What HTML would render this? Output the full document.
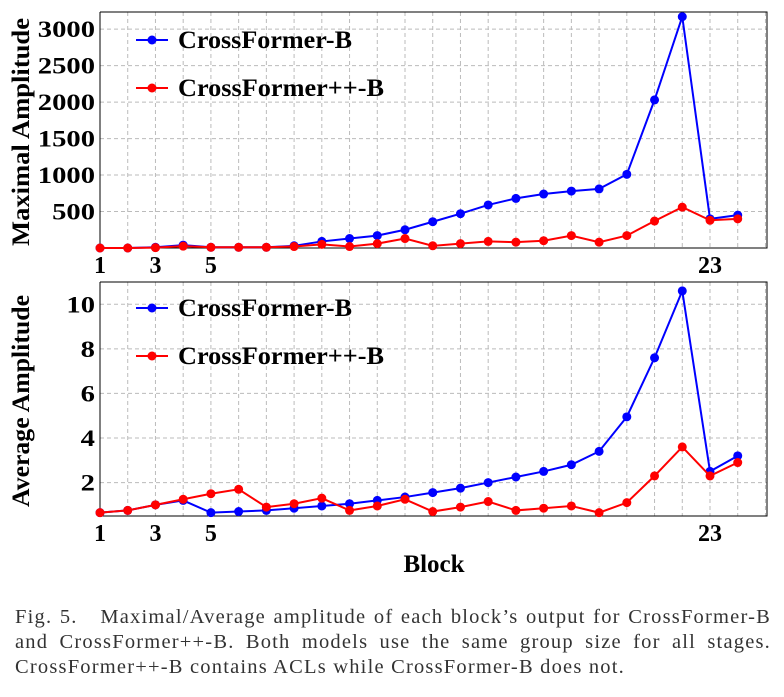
<!DOCTYPE html>
<html><head><meta charset="utf-8"><style>
body{margin:0;background:#fff;width:784px;height:697px;overflow:hidden;font-family:"Liberation Serif",serif}
svg text{font-family:"Liberation Serif",serif}
#cap{position:absolute;left:15px;top:605px;width:756px;font-size:20.5px;letter-spacing:1.2px;line-height:25px;color:#333}
#cap .j{text-align:justify;text-align-last:justify;white-space:nowrap}
</style></head><body>
<svg id="chart" width="784" height="600" style="position:absolute;left:0;top:0"></svg>
<div id="cap"><div class="j">Fig. 5.&nbsp;&nbsp; Maximal/Average amplitude of each block’s output for CrossFormer-B</div><div class="j">and CrossFormer++-B. Both models use the same group size for all stages.</div><div>CrossFormer++-B contains ACLs while CrossFormer-B does not.</div></div>
<script>
const blocks=[1,2,3,4,5,6,7,8,9,10,11,12,13,14,15,16,17,18,19,20,21,22,23,24];
const xTickLabels=[1,3,5,23];
const maxBlue=[0,0,10,40,10,10,10,30,90,130,170,250,360,470,590,680,740,780,810,1010,2030,3170,400,450];
const maxRed=[0,0,5,25,10,10,10,20,50,20,60,130,30,60,90,80,100,170,80,170,370,560,380,400];
const maxTicks=[500,1000,1500,2000,2500,3000];
const avgBlue=[0.65,0.75,1.0,1.2,0.65,0.7,0.75,0.85,0.95,1.05,1.2,1.35,1.55,1.75,2.0,2.25,2.5,2.8,3.4,4.95,7.6,10.6,2.5,3.2];
const avgRed=[0.65,0.75,1.0,1.25,1.5,1.7,0.9,1.05,1.3,0.75,0.95,1.25,0.7,0.9,1.15,0.75,0.85,0.95,0.65,1.1,2.3,3.6,2.3,2.9];
const avgTicks=[2,4,6,8,10];
const seriesNames=["CrossFormer-B","CrossFormer++-B"];
const NS="http://www.w3.org/2000/svg";
const svg=document.getElementById('chart');
function mk(t,a,p){const e=document.createElementNS(NS,t);for(const k in a)e.setAttribute(k,a[k]);(p||svg).appendChild(e);return e;}
const L=100,R=767;
const xs=b=>L+(b-1)*(710-L)/22;
function panel(name,top,bottom,yMin,yMax,ticks,blue,red,ylabel,legY){
  const g=mk('g',{});
  
  
  const ys=v=>bottom-(v-yMin)/(yMax-yMin)*(bottom-top);
  for(let b=1;b<=25;b++){if(xs(b)>R)break;const l=mk('line',{x1:xs(b),x2:xs(b),y1:top,y2:bottom,stroke:'#bbb','stroke-dasharray':'4,3','stroke-width':1},g);}
  ticks.forEach(t=>{const l=mk('line',{x1:L,x2:R,y1:ys(t),y2:ys(t),stroke:'#bbb','stroke-dasharray':'4,3','stroke-width':1},g);
    const tx=mk('text',{x:L-5,y:ys(t)+8,'text-anchor':'end','font-size':23,'font-weight':'bold',textLength:String(t).length*14.3,lengthAdjust:'spacingAndGlyphs'},g);tx.textContent=t;});
  const ax=mk('polyline',{points:`${L},${top} ${L},${bottom} ${R},${bottom} ${R},${top} ${L},${top}`,fill:'none',stroke:'#000','stroke-width':1},g);
  
  xTickLabels.forEach(b=>{const tx=mk('text',{x:xs(b),y:bottom+25,'text-anchor':'middle','font-size':24,'font-weight':'bold'},g);tx.textContent=b;});
  [[blue,'#0000ff'],[red,'#ff0000']].forEach(([d,c],i)=>{
    const pl=mk('polyline',{points:d.map((v,j)=>xs(blocks[j])+','+ys(v)).join(' '),fill:'none',stroke:c,'stroke-width':2},g);
    
    d.forEach((v,j)=>{const p=mk('circle',{cx:xs(blocks[j]),cy:ys(v),r:4.5,fill:c},g);});
  });
  const yl=mk('text',{transform:`translate(29,${(top+bottom)/2+2}) rotate(-90)`,'text-anchor':'middle','font-size':25,'font-weight':'bold',textLength:ylabel==='Maximal Amplitude'?228:212,lengthAdjust:'spacingAndGlyphs'},g);
  yl.textContent=ylabel;
  seriesNames.forEach((n,i)=>{const y=legY+i*48;const c=i?'#ff0000':'#0000ff';
    const lg=mk('g',{},g);
    mk('line',{x1:136,x2:168,y1:y,y2:y,stroke:c,'stroke-width':2},lg);mk('circle',{cx:152,cy:y,r:4.5,fill:c},lg);
    const t=mk('text',{x:178,y:y+8,'font-size':25,'font-weight':'bold',textLength:i?206:174,lengthAdjust:'spacingAndGlyphs'},lg);t.textContent=n;});
}
panel('max-amplitude-panel',12,248,0,3235,maxTicks,maxBlue,maxRed,'Maximal Amplitude',40);
panel('avg-amplitude-panel',282,516,0.5,11,avgTicks,avgBlue,avgRed,'Average Amplitude',308);
const xt=mk('text',{x:434,y:572,'text-anchor':'middle','font-size':25,'font-weight':'bold'});
xt.textContent='Block';


</script>
</body></html>
